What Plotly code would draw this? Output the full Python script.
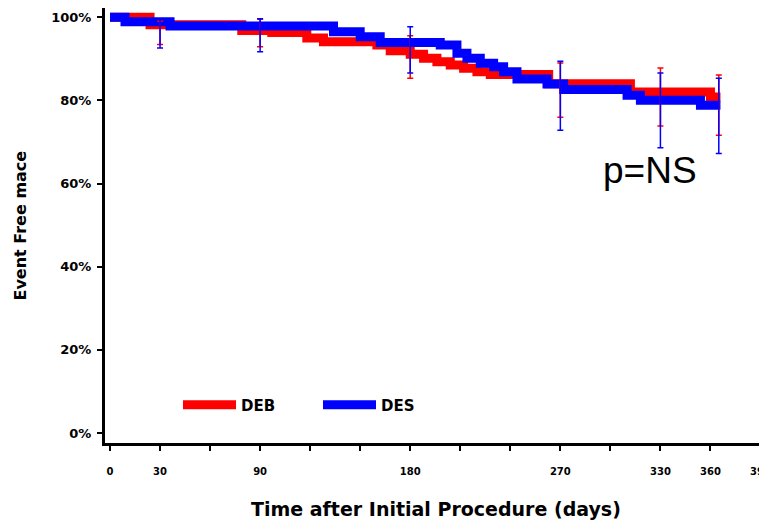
import plotly.graph_objects as go

# ---- data ----
deb_days = [0, 24, 79, 97, 118, 128, 160, 168, 180, 188, 196, 204, 212, 220, 228, 263, 312, 360, 366]
deb_surv = [100, 98.2, 96.8, 96.3, 95.0, 94.1, 93.3, 91.9, 91.1, 90.1, 89.3, 88.5, 87.7, 86.9, 86.2, 84.0, 82.0, 80.8, 80.8]

des_days = [0, 9, 36, 134, 150, 162, 198, 208, 214, 222, 230, 236, 244, 262, 272, 310, 318, 354, 366]
des_surv = [100, 98.9, 97.9, 96.5, 95.3, 93.9, 93.3, 91.3, 90.1, 88.9, 88.1, 86.9, 85.1, 83.9, 82.6, 81.2, 80.0, 78.8, 78.8]

err_days = [30, 90, 180, 270, 330, 365]
deb_est = [98.2, 96.8, 91.1, 84.0, 82.0, 80.8]
deb_hi = [99.0, 99.5, 95.5, 89.0, 87.8, 86.1]
deb_lo = [93.4, 92.9, 85.3, 75.9, 73.8, 71.6]
des_est = [98.9, 97.9, 93.9, 83.9, 80.0, 78.8]
des_hi = [99.6, 99.6, 97.7, 89.4, 86.6, 85.3]
des_lo = [92.6, 91.7, 86.6, 72.8, 68.6, 67.2]

x_tickvals = [0, 30, 60, 90, 120, 150, 180, 210, 240, 270, 300, 330, 360, 390]
x_ticktext = ["0", "30", "", "90", "", "", "180", "", "", "270", "", "330", "360", "390"]
y_tickvals = [0, 20, 40, 60, 80, 100]
y_ticktext = ["0%", "20%", "40%", "60%", "80%", "100%"]

RED = "#ff0000"
BLUE = "#0000ff"
BOLD = "DejaVu Sans"

fig = go.Figure()
fig.add_trace(go.Scatter(x=deb_days, y=deb_surv, mode="lines", name="DEB",
                         line=dict(color=RED, width=9, shape="hv")))
fig.add_trace(go.Scatter(x=des_days, y=des_surv, mode="lines", name="DES",
                         line=dict(color=BLUE, width=9, shape="hv")))

fig.add_trace(go.Scatter(
    x=err_days, y=deb_est, mode="markers", showlegend=False,
    marker=dict(size=1, color="rgba(0,0,0,0)"),
    error_y=dict(type="data", symmetric=False,
                 array=[h - e for h, e in zip(deb_hi, deb_est)],
                 arrayminus=[e - l for e, l in zip(deb_est, deb_lo)],
                 color=RED, thickness=1.5, width=3)))
fig.add_trace(go.Scatter(
    x=err_days, y=des_est, mode="markers", showlegend=False,
    marker=dict(size=1, color="rgba(0,0,0,0)"),
    error_y=dict(type="data", symmetric=False,
                 array=[h - e for h, e in zip(des_hi, des_est)],
                 arrayminus=[e - l for e, l in zip(des_est, des_lo)],
                 color=BLUE, thickness=1.5, width=3)))

# page body adds an 8px margin, so the figure is 8px smaller than the window
W, H = 759, 516
L, R, T, B = 97, 0, 0, 81
PW, PH = W - L - R, H - T - B

fig.update_layout(
    width=W, height=H,
    margin=dict(l=L, r=R, t=T, b=B, pad=0),
    paper_bgcolor="white", plot_bgcolor="white",
    font=dict(family=BOLD, color="black"),
    showlegend=True,
    legend=dict(orientation="h", x=(170 - L) / PW, xanchor="left",
                y=(PH - (405 - 8)) / PH, yanchor="middle",
                bgcolor="rgba(0,0,0,0)",
                font=dict(family=BOLD, size=15, color="black", weight="bold"),
                entrywidth=72, entrywidthmode="pixels", itemwidth=53),
    xaxis=dict(range=[-3, 393.9], tickmode="array", tickvals=x_tickvals, ticktext=x_ticktext,
               ticks="outside", ticklen=5, tickwidth=1.5, tickcolor="black",
               showline=True, linewidth=3, linecolor="black",
               showgrid=False, zeroline=False, automargin=False,
               ticklabelstandoff=12, ticklabeloverflow="allow",
               tickfont=dict(family=BOLD, size=10, color="black", weight="bold")),
    yaxis=dict(range=[-2.4, 102.2], tickmode="array", tickvals=y_tickvals, ticktext=y_ticktext,
               ticks="outside", ticklen=5, tickwidth=1.5, tickcolor="black",
               showline=True, linewidth=3, linecolor="black",
               showgrid=False, zeroline=False, automargin=False,
               ticklabelstandoff=3,
               tickfont=dict(family=BOLD, size=13, color="black", weight="bold")),
    annotations=[
        dict(text="Event Free mace", xref="paper", yref="paper", x=0, y=0.5,
             xanchor="center", yanchor="middle", xshift=-85, textangle=-90, showarrow=False,
             font=dict(family=BOLD, size=16, color="black", weight="bold")),
        dict(text="Time after Initial Procedure (days)", xref="paper", yref="paper", x=0.5, y=0,
             xanchor="center", yanchor="middle", yshift=-66, showarrow=False,
             font=dict(family=BOLD, size=19, color="black", weight="bold")),
        dict(text="p=NS", xref="x", yref="y", x=324, y=62.5,
             xanchor="center", yanchor="middle", yshift=3, showarrow=False,
             font=dict(family="Liberation Sans", size=37, color="black")),
    ],
)

fig.write_html("out.html")
